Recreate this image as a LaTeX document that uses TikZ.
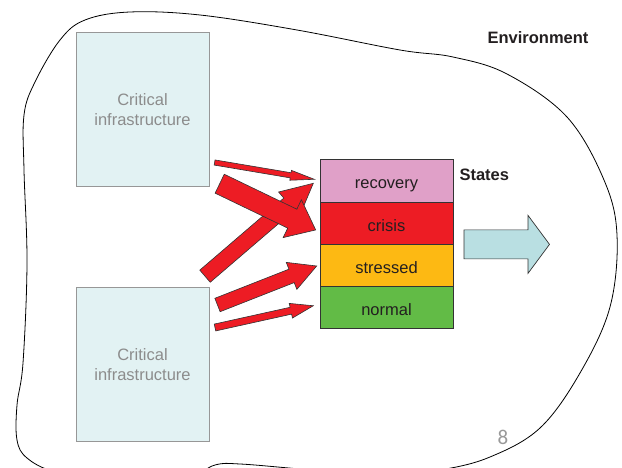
\documentclass[tikz,border=0pt]{standalone}
\usepackage{fontspec}
\setmainfont{Liberation Sans}
\newfontfamily\pagefont{Carlito}
\usetikzlibrary{positioning,calc}
\definecolor{infrafill}{HTML}{E2F2F3}
\definecolor{infragray}{HTML}{8C8C8C}
\definecolor{recovpink}{HTML}{E0A0C8}
\definecolor{crisisred}{HTML}{ED1C24}
\definecolor{stressorange}{HTML}{FDB913}
\definecolor{normalgreen}{HTML}{62BB46}
\definecolor{outcyan}{HTML}{B9DFE2}
\definecolor{darktext}{HTML}{231F20}

% tail, tip, shaft half width, head half width, head length
\newcommand{\blockarrow}[5]{%
  \coordinate (ah) at ($(#2)!#5!(#1)$);
  \draw[redblock] ($(#1)!#3!90:(#2)$) -- ($(ah)!#3!-90:(#1)$) -- ($(ah)!#4!-90:(#1)$) -- (#2)
    -- ($(ah)!#4!90:(#1)$) -- ($(ah)!#3!90:(#1)$) -- ($(#1)!#3!-90:(#2)$) -- cycle;}

\begin{document}
\begin{tikzpicture}[x=1pt,y=1pt,
    infra/.style={rectangle,draw=infragray!90,fill=infrafill,line width=1pt,minimum width=133pt,minimum height=154pt,
      align=center,text=infragray,font=\fontsize{16.5}{20.5}\selectfont},
    state/.style={rectangle,draw=black!80,line width=0.8pt,minimum width=133pt,minimum height=42.25pt,outer sep=0pt,
      text height=16pt,text depth=0pt,text=darktext,font=\fontsize{16.5}{20}\selectfont},
    lbl/.style={font=\fontsize{16.5}{20}\selectfont\bfseries,text=darktext},
    redblock/.style={fill=crisisred,draw=black!80,line width=0.6pt,line join=miter},
    outarrow/.style={fill=outcyan,draw=black!80,line width=0.7pt}]
  \useasboundingbox (0,0) rectangle (622,-468);
  \clip (0,0) rectangle (622,-468);
  \draw[line width=0.8pt] plot[smooth cycle,tension=0.6] coordinates {(60,-40) (85,-20) (130,-12) (200,-15)
    (297,-30) (400,-50) (453,-57) (507,-74) (567,-117) (604,-180) (617,-235) (610,-307) (580,-373) (540,-428)
    (490,-457) (440,-470) (380,-476) (300,-469) (240,-464) (215,-465) (185,-478) (110,-482) (55,-472)
    (27,-458) (17,-440) (17,-405) (23,-363) (27,-263) (24,-170) (24,-115) (35,-82)};

  \node[infra] (infratop) at (142.5,-109.5) {Critical\\infrastructure};
  \node[infra] (infrabot) at (142.5,-364.5) {Critical\\infrastructure};

  \node[state,fill=recovpink] (recovery) at (386.5,-181) {recovery};
  \node[state,fill=crisisred,below=0pt of recovery] (crisis) {crisis};
  \node[state,fill=stressorange,below=0pt of crisis] (stressed) {stressed};
  \node[state,fill=normalgreen,below=0pt of stressed] (normal) {normal};

  \node[lbl,anchor=west] (stateslbl) at ($(recovery.east)+(3,6)$) {States};
  \node[lbl] (envlbl) at (538,-38) {Environment};
  \node[text=black!40,font=\pagefont\fontsize{21}{24}\selectfont] (pagenum) at (503,-437) {8};

  \coordinate (s1) at (214.6,-162.5);
  \coordinate (s2) at (219.7,-183.7);
  \coordinate (s3) at (205,-276.2);
  \coordinate (s4) at (217.5,-305);
  \coordinate (s5) at (215,-327.5);
  \coordinate (t1) at ($(recovery.west)+(-5.7,1.7)$);
  \coordinate (t2) at ($(crisis.west)+(-4.3,-6.7)$);
  \coordinate (t3) at ($(recovery.west)+(-6.7,-2.3)$);
  \coordinate (t4) at ($(stressed.west)+(-3.3,-0.5)$);
  \coordinate (t5) at ($(normal.west)+(-6.7,2)$);
  \blockarrow{s1}{t1}{2.6pt}{5pt}{24pt}
  \blockarrow{s3}{t3}{8pt}{16pt}{32pt}
  \blockarrow{s2}{t2}{10.5pt}{21pt}{26pt}
  \blockarrow{s4}{t4}{7.2pt}{14.5pt}{27pt}
  \blockarrow{s5}{t5}{3.5pt}{7.5pt}{23pt}

  \draw[outarrow] ($(crisis.south east)+(11,14.5)$) -- ++(64,0) -- ++(0,14.5) -- ++(21.5,-29)
    -- ++(-21.5,-29) -- ++(0,14.5) -- ++(-64,0) -- cycle;
\end{tikzpicture}
\end{document}
